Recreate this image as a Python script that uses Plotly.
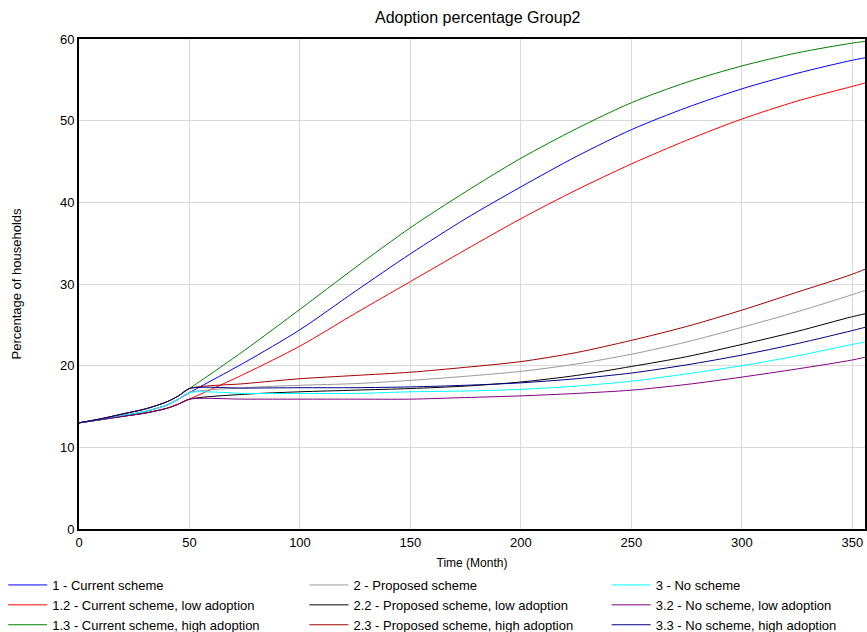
import plotly.graph_objects as go

# Shared pre-branch trajectories (months 0-50) for the three adoption levels
t_pre = [0, 10, 20, 30, 40, 45, 50]
pre_high = [13.0, 13.5, 14.1, 14.7, 15.6, 16.3, 17.2]
pre_base = [13.0, 13.4, 13.9, 14.4, 15.2, 15.9, 16.7]
pre_low = [13.0, 13.4, 13.8, 14.2, 14.8, 15.3, 15.9]

# All scenario runs after the branch point (month 50)
t_post = [50, 75, 100, 125, 150, 175, 200, 225, 250, 275, 300, 325, 350, 360]
cur_base = [16.7, 20.4, 24.4, 29.1, 33.7, 38.0, 41.9, 45.6, 48.9, 51.6, 53.9, 55.8, 57.4, 57.9]
cur_low = [15.9, 19.0, 22.4, 26.4, 30.3, 34.2, 38.0, 41.5, 44.7, 47.6, 50.2, 52.4, 54.2, 54.9]
cur_high = [17.2, 21.9, 26.9, 32.0, 36.9, 41.3, 45.4, 49.0, 52.2, 54.7, 56.7, 58.3, 59.5, 59.85]
prop_base = [16.7, 17.3, 17.6, 17.8, 18.2, 18.7, 19.3, 20.2, 21.4, 22.9, 24.7, 26.6, 28.7, 29.6]
prop_low = [15.9, 16.5, 16.8, 17.0, 17.2, 17.5, 18.0, 18.8, 19.9, 21.1, 22.6, 24.2, 26.0, 26.6]
prop_high = [17.2, 17.8, 18.4, 18.8, 19.2, 19.8, 20.5, 21.6, 23.1, 24.8, 26.8, 29.0, 31.2, 32.3]
none_base = [16.7, 16.6, 16.6, 16.6, 16.8, 16.9, 17.1, 17.5, 18.1, 19.0, 20.0, 21.2, 22.6, 23.1]
none_low = [15.9, 15.9, 15.9, 15.9, 15.9, 16.1, 16.3, 16.6, 17.0, 17.7, 18.6, 19.6, 20.7, 21.3]
none_high = [17.2, 17.25, 17.3, 17.3, 17.4, 17.6, 17.9, 18.4, 19.1, 20.1, 21.3, 22.7, 24.3, 25.0]

x_ticks = [0, 50, 100, 150, 200, 250, 300, 350]
y_ticks = [0, 10, 20, 30, 40, 50, 60]


def join(pre, post):
    return t_pre[:-1] + t_post, pre[:-1] + post


# One legend column per scheme
series = [
    ("1 - Current scheme", "#0000ff", pre_base, cur_base, "legend"),
    ("1.2 - Current scheme, low adoption", "#ff0000", pre_low, cur_low, "legend"),
    ("1.3 - Current scheme, high adoption", "#008000", pre_high, cur_high, "legend"),
    ("2 - Proposed scheme", "#999999", pre_base, prop_base, "legend2"),
    ("2.2 - Proposed scheme, low adoption", "#000000", pre_low, prop_low, "legend2"),
    ("2.3 - Proposed scheme, high adoption", "#a00000", pre_high, prop_high, "legend2"),
    ("3 - No scheme", "#00ffff", pre_base, none_base, "legend3"),
    ("3.2 - No scheme, low adoption", "#800080", pre_low, none_low, "legend3"),
    ("3.3 - No scheme, high adoption", "#000080", pre_high, none_high, "legend3"),
]

fig = go.Figure()
for name, color, pre, post, leg in series:
    xs, ys = join(pre, post)
    fig.add_trace(go.Scatter(x=xs, y=ys, mode="lines", name=name, legend=leg,
                             line=dict(color=color, width=1, shape="spline", smoothing=0.8)))

font_family = "Liberation Sans, Arial, sans-serif"
W, H = 867, 632
ML, MR, MT, MB = 79, 0, 39, 102
plot_w = W - ML - MR
legend_top = 1 - 570 / H


def legend_box(x_px):
    # x in plot-area units so the legend stays out of the margin calculation
    return dict(orientation="v", xref="paper", yref="container",
                x=(x_px - ML) / plot_w, y=legend_top, xanchor="left", yanchor="top",
                itemwidth=39, font=dict(size=13), tracegroupgap=0,
                traceorder="normal", bgcolor="rgba(0,0,0,0)")


fig.update_layout(
    width=W, height=H,
    margin=dict(l=ML, r=MR, t=MT, b=MB),
    paper_bgcolor="white", plot_bgcolor="white",
    font=dict(family=font_family, size=13, color="#000000"),
    title=dict(text="Adoption percentage Group2", x=0.551, xanchor="center",
               y=1 - 17 / H, yanchor="middle", font=dict(size=16)),
    showlegend=True,
    legend=legend_box(3),
    legend2=legend_box(305),
    legend3=legend_box(608),
)
fig.update_xaxes(range=[0, 355.7], tickvals=x_ticks, showgrid=True, gridcolor="#d8d8d8",
                 gridwidth=1, showline=True, linecolor="black", linewidth=2, mirror=True,
                 ticks="", zeroline=False, tickfont=dict(size=13),
                 title=dict(text="Time (Month)", font=dict(size=12), standoff=12))
fig.update_yaxes(range=[0, 60], tickvals=y_ticks, showgrid=True, gridcolor="#d8d8d8",
                 gridwidth=1, showline=True, linecolor="black", linewidth=2, mirror=True,
                 ticks="", zeroline=False, tickfont=dict(size=13),
                 title=dict(text="Percentage of households", font=dict(size=13), standoff=35))

fig.write_html("out.html")
